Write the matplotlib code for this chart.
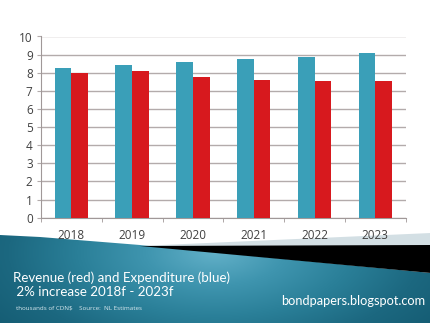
import numpy as np
import matplotlib
matplotlib.use('Agg')
import matplotlib.pyplot as plt
from matplotlib.patches import Polygon
from matplotlib.colors import LinearSegmentedColormap

years = ['2018', '2019', '2020', '2021', '2022', '2023']
expenditure = [8.25, 8.4, 8.58, 8.75, 8.88, 9.08]   # blue
revenue = [7.98, 8.07, 7.76, 7.59, 7.57, 7.54]      # red

BLUE = '#3a9fb8'
RED = '#d7191e'
W, H = 431, 323

plt.rcParams['font.family'] = ['Open Sans', 'DejaVu Sans']
fig = plt.figure(figsize=(W / 100, H / 100), dpi=100)

# background banner, in pixel coords
bg = fig.add_axes([0, 0, 1, 1])
bg.set_xlim(0, W)
bg.set_ylim(H, 0)
bg.axis('off')

# soft light spot in the middle of the banner, darker towards the edges
cmap = LinearSegmentedColormap.from_list('teal', ['#62b0c8', '#3f95af', '#2a7f98', '#1c6880', '#145b72'])
gx, gy = np.meshgrid(np.linspace(0, W, 216), np.linspace(225, H, 50))
dist = np.sqrt(((gx - 215) / 230) ** 2 + ((gy - 252) / 110) ** 2)
img = bg.imshow(np.clip(dist, 0, 1.2), cmap=cmap, vmin=0, vmax=1.2, extent=[0, W, H, 225],
                aspect='auto', zorder=1, interpolation='bilinear')
teal = Polygon([(0, 235), (40, 237), (90, 241), (140, 245), (431, 273), (431, 323), (0, 323)],
               closed=True, facecolor='none', edgecolor='none')
bg.add_patch(teal)
img.set_clip_path(teal)
bg.add_patch(Polygon([(140, 246), (431, 233), (431, 246)], closed=True,
                     facecolor='#d3dfe4', edgecolor='none', zorder=2))
bg.add_patch(Polygon([(140, 246), (431, 245), (431, 273)], closed=True,
                     facecolor='black', edgecolor='none', zorder=3))

bg.text(13, 278, 'Revenue (red) and Expenditure (blue)', color='white', fontsize=9.6,
        family=['Lato', 'DejaVu Sans'], va='center', zorder=5)
bg.text(13, 292, ' 2% increase 2018f - 2023f', color='white', fontsize=9.6,
        family=['Lato', 'DejaVu Sans'], va='center', zorder=5)
bg.text(16, 308, 'thousands of CDN$    Source:  NL Estimates', color='#d8e8ee', fontsize=4.5,
        va='center', zorder=5)
bg.text(425, 301, 'bondpapers.blogspot.com', color='white', fontsize=9.2,
        family=['Lato', 'DejaVu Sans'], va='center', ha='right', zorder=5)

# chart
ax = fig.add_axes([41 / W, (H - 217.7) / H, (405.7 - 41) / W, (217.7 - 36.5) / H])
x = np.arange(len(years))
bw = 0.275
ax.bar(x - bw / 2, expenditure, bw, color=BLUE, zorder=3)
ax.bar(x + bw / 2, revenue, bw, color=RED, zorder=3)
ax.set_xlim(-0.5, len(years) - 0.5)
ax.set_ylim(0, 10)
ax.set_yticks(range(0, 11))
ax.yaxis.grid(True, color='#b3abab', linewidth=1, zorder=0)
ax.set_xticks(x)
ax.set_xticklabels(years)
ax.set_xticks(np.arange(-0.5, len(years)), minor=True)
ax.tick_params(axis='x', which='major', length=0, pad=8, labelsize=8.5, labelcolor='#404040')
ax.tick_params(axis='x', which='minor', length=3, color='#a09898', direction='out')
ax.tick_params(axis='y', length=3, color='#b3abab', labelsize=8.5, labelcolor='#404040', pad=3)
for s in ['top', 'right']:
    ax.spines[s].set_visible(False)
ax.spines['left'].set_color('#a09898')
ax.spines['bottom'].set_color('#a09898')
ax.set_facecolor('none')

fig.savefig('out.png', dpi=100)
